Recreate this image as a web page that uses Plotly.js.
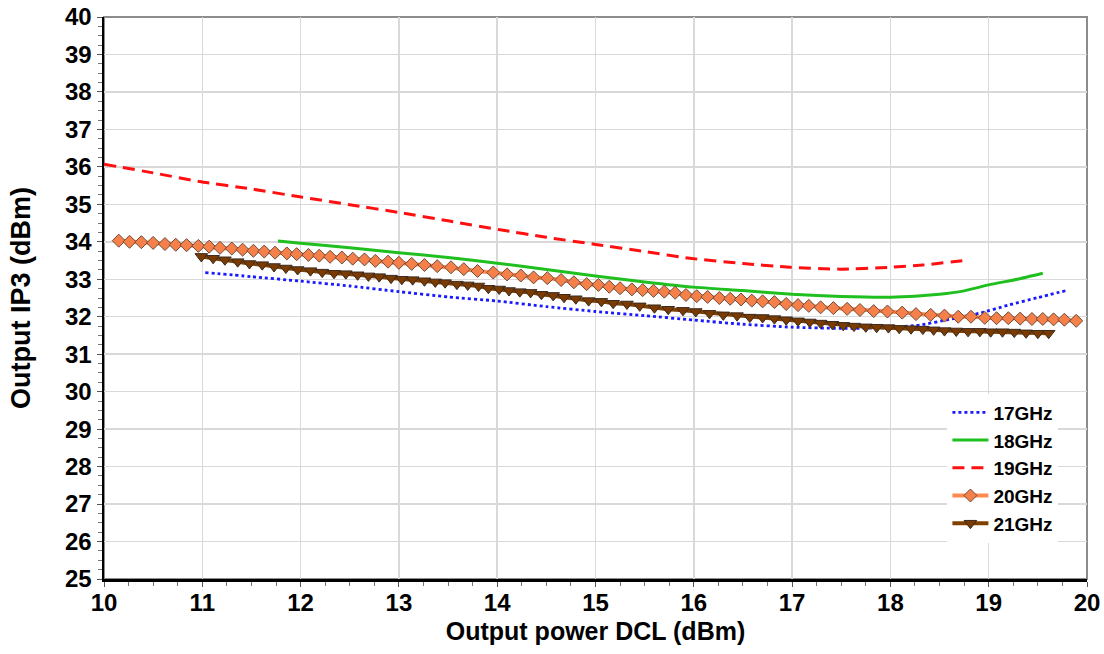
<!DOCTYPE html>
<html>
<head>
<meta charset="utf-8">
<script src="https://cdn.plot.ly/plotly-3.0.1.min.js"></script>
<style>
  html, body { margin: 0; padding: 0; background: #ffffff; }
  #chart { width: 1104px; height: 654px; }
</style>
</head>
<body>
<div id="chart"></div>
<script>
// ---- Data ----
const seriesNames = ["17GHz", "18GHz", "19GHz", "20GHz", "21GHz"];

const x17 = [11.03, 11.5, 12.0, 12.5, 13.0, 13.5, 14.0, 14.5, 15.0, 15.5, 16.0, 16.5, 17.0, 17.5, 18.0, 18.3, 18.6, 18.9, 19.2, 19.5, 19.79];
const y17 = [33.18, 33.07, 32.95, 32.82, 32.67, 32.53, 32.42, 32.27, 32.14, 32.03, 31.91, 31.80, 31.72, 31.69, 31.71, 31.78, 31.93, 32.09, 32.31, 32.51, 32.70];

const x18 = [11.77, 12.0, 12.5, 13.0, 13.5, 14.0, 14.5, 15.0, 15.5, 16.0, 16.5, 17.0, 17.5, 18.0, 18.5, 18.75, 19.0, 19.29, 19.55];
const y18 = [34.02, 33.96, 33.84, 33.71, 33.58, 33.43, 33.26, 33.09, 32.93, 32.79, 32.70, 32.60, 32.54, 32.52, 32.60, 32.69, 32.85, 33.00, 33.16];

const x19 = [10.0, 10.5, 10.97, 11.5, 11.99, 12.5, 13.01, 13.5, 14.03, 14.5, 15.0, 15.5, 15.96, 16.5, 16.98, 17.49, 17.99, 18.33, 18.78];
const y19 = [36.07, 35.84, 35.61, 35.41, 35.20, 34.99, 34.78, 34.56, 34.32, 34.12, 33.93, 33.74, 33.56, 33.42, 33.32, 33.27, 33.32, 33.38, 33.51];

const x20 = [10.15, 10.26, 10.38, 10.50, 10.62, 10.73, 10.84, 10.96, 11.07, 11.18, 11.30, 11.41, 11.52, 11.63, 11.74, 11.86, 11.96, 12.08, 12.19, 12.30, 12.42,
             12.53, 12.65, 12.76, 12.89, 13.00, 13.13, 13.26, 13.39, 13.53, 13.66, 13.80, 13.96, 14.10, 14.24, 14.37, 14.51, 14.65, 14.78, 14.91,
             15.03, 15.14, 15.25, 15.37, 15.48, 15.59, 15.70, 15.81, 15.92, 16.03, 16.14, 16.26, 16.37, 16.48, 16.59, 16.70, 16.82, 16.94, 17.06, 17.17, 17.29, 17.42,
             17.56, 17.69, 17.83, 17.97, 18.12, 18.26, 18.41, 18.55, 18.69, 18.82, 18.96, 19.08, 19.20, 19.32, 19.44, 19.55, 19.66, 19.77, 19.89];
const y20 = [34.03, 34.00, 33.99, 33.97, 33.94, 33.92, 33.91, 33.89, 33.87, 33.84, 33.82, 33.79, 33.76, 33.74, 33.71, 33.69, 33.67, 33.65, 33.63, 33.60, 33.58,
             33.55, 33.53, 33.49, 33.47, 33.44, 33.41, 33.38, 33.35, 33.32, 33.27, 33.22, 33.18, 33.13, 33.10, 33.05, 33.03, 32.98, 32.92, 32.87,
             32.85, 32.80, 32.76, 32.73, 32.71, 32.69, 32.67, 32.64, 32.58, 32.55, 32.53, 32.50, 32.48, 32.46, 32.43, 32.41, 32.39, 32.34, 32.31, 32.29, 32.25, 32.23,
             32.21, 32.18, 32.15, 32.14, 32.11, 32.07, 32.05, 32.03, 32.00, 32.00, 31.97, 31.96, 31.96, 31.95, 31.94, 31.94, 31.93, 31.92, 31.89];

const x21 = [10.99, 11.11, 11.23, 11.36, 11.48, 11.61, 11.73, 11.85, 11.97, 12.10, 12.22, 12.34, 12.46,
             12.58, 12.69, 12.80, 12.92, 13.03, 13.14, 13.26, 13.37, 13.47, 13.59, 13.70, 13.81, 13.91, 14.02, 14.12, 14.23, 14.34, 14.45, 14.57, 14.68, 14.80, 14.93,
             15.06, 15.18, 15.32, 15.45, 15.60, 15.74, 15.89, 16.02, 16.16, 16.30, 16.44, 16.57, 16.70, 16.82, 16.94, 17.06, 17.18, 17.29, 17.41,
             17.52, 17.63, 17.75, 17.86, 17.98, 18.09, 18.21, 18.33, 18.44, 18.55, 18.67, 18.79, 18.91, 19.02, 19.14, 19.26, 19.38, 19.50, 19.61];
const y21 = [33.61, 33.56, 33.52, 33.47, 33.42, 33.39, 33.34, 33.30, 33.26, 33.23, 33.19, 33.16, 33.15,
             33.12, 33.09, 33.07, 33.03, 33.00, 32.99, 32.96, 32.93, 32.91, 32.87, 32.85, 32.82, 32.76, 32.74, 32.70, 32.67, 32.65, 32.60, 32.57, 32.52, 32.48, 32.43,
             32.41, 32.36, 32.34, 32.29, 32.24, 32.20, 32.17, 32.14, 32.09, 32.05, 32.03, 31.99, 31.98, 31.95, 31.92, 31.89, 31.86, 31.83, 31.80,
             31.77, 31.75, 31.73, 31.72, 31.71, 31.69, 31.68, 31.67, 31.65, 31.63, 31.62, 31.61, 31.61, 31.60, 31.60, 31.59, 31.57, 31.56, 31.56];

const xTitle = "Output power DCL (dBm)";
const yTitle = "Output IP3 (dBm)";

// ---- Traces ----
const FONT = "Liberation Sans, Arial, sans-serif";
const traces = [
  { x: x17, y: y17, name: seriesNames[0], mode: "lines",
    line: { color: "#1a1aff", width: 2.8, dash: "dot", shape: "spline", smoothing: 0.6 } },
  { x: x18, y: y18, name: seriesNames[1], mode: "lines",
    line: { color: "#1fbf1f", width: 3, shape: "spline", smoothing: 0.6 } },
  { x: x19, y: y19, name: seriesNames[2], mode: "lines",
    line: { color: "#ff1010", width: 3, dash: "12px,7px", shape: "spline", smoothing: 0.6 } },
  { x: x20, y: y20, name: seriesNames[3], mode: "lines+markers",
    line: { color: "#ff8a50", width: 4 },
    marker: { symbol: "diamond", size: 10, color: "#f5804a", line: { color: "#6e4a3a", width: 1 } } },
  { x: x21, y: y21, name: seriesNames[4], mode: "lines+markers",
    line: { color: "#804000", width: 4 },
    marker: { symbol: "triangle-down", size: 11, color: "#7a3a00", line: { color: "#3a2a20", width: 1 } } }
];

const layout = {
  width: 1104, height: 654,
  margin: { l: 104, r: 17, t: 17, b: 75 },
  paper_bgcolor: "#ffffff", plot_bgcolor: "#ffffff",
  font: { family: FONT, color: "#000000" },
  showlegend: true,
  legend: {
    x: 0.858, y: 0.33, xanchor: "left", yanchor: "top",
    bgcolor: "#ffffff", borderwidth: 0,
    font: { family: FONT, size: 19, color: "#000000", weight: "bold" },
    tracegroupgap: 0, itemwidth: 36
  },
  xaxis: {
    range: [10, 20], dtick: 1, tick0: 10,
    showgrid: true, gridcolor: "#d9d9d9", gridwidth: 1.5,
    zeroline: false,
    showline: true, linecolor: "#000000", linewidth: 2.5,
    ticks: "outside", ticklen: 5, tickcolor: "#555555", tickwidth: 1,
    ticklabelstandoff: -4,
    tickfont: { family: FONT, size: 24, color: "#000000", weight: "bold" },
    minor: { dtick: 0.25, ticks: "outside", ticklen: 4, tickcolor: "#777777", showgrid: false },
    title: { text: xTitle, font: { family: FONT, size: 25, color: "#000000", weight: "bold" }, standoff: 7 }
  },
  yaxis: {
    range: [25, 40], dtick: 1, tick0: 25,
    showgrid: true, gridcolor: "#d9d9d9", gridwidth: 1.5,
    zeroline: false,
    showline: true, linecolor: "#000000", linewidth: 2.5,
    ticks: "outside", ticklen: 5, tickcolor: "#555555", tickwidth: 1,
    tickfont: { family: FONT, size: 24, color: "#000000", weight: "bold" },
    minor: { dtick: 0.25, ticks: "outside", ticklen: 4, tickcolor: "#777777", showgrid: false },
    title: { text: yTitle, font: { family: FONT, size: 27, color: "#000000", weight: "bold" }, standoff: 27 }
  },
  shapes: [
    { type: "rect", xref: "paper", yref: "paper", x0: 0, x1: 1, y0: 0, y1: 1,
      line: { color: "#8c8c8c", width: 2 }, layer: "below" }
  ]
};

Plotly.newPlot("chart", traces, layout, { displayModeBar: false, staticPlot: true });
</script>
</body>
</html>
